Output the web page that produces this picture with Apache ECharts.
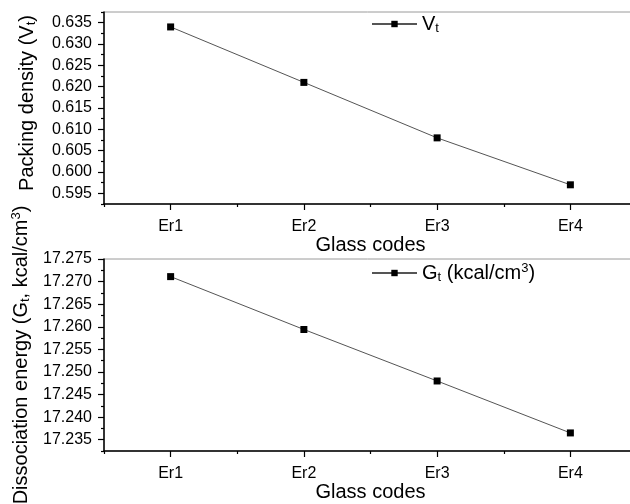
<!DOCTYPE html>
<html>
<head>
<meta charset="utf-8">
<script src="https://cdn.jsdelivr.net/npm/echarts@6/dist/echarts.min.js"></script>
<style>
  html, body { margin: 0; padding: 0; background: #fff; }
  #chart { width: 630px; height: 504px; }
</style>
</head>
<body>
<div id="chart"></div>
<script>
// Glass samples and their measured properties
const glassCodes = ['Er1', 'Er2', 'Er3', 'Er4'];
const packingDensity = [0.634, 0.621, 0.608, 0.597];
const dissociationEnergy = [17.2711, 17.2594, 17.2480, 17.2365];

// Labelled tick values on each value axis
const packingTicks = [0.595, 0.600, 0.605, 0.610, 0.615, 0.620, 0.625, 0.630, 0.635];
const energyTicks = [17.235, 17.240, 17.245, 17.250, 17.255, 17.260, 17.265, 17.270, 17.275];

// Unlabelled half-step ticks between the labelled ones
function halfSteps(ticks, step, includeAbove) {
  const out = [Number((ticks[0] - step / 2).toFixed(4))];
  ticks.forEach((t, i) => {
    if (i < ticks.length - 1 || includeAbove) out.push(Number((t + step / 2).toFixed(4)));
  });
  return out;
}
const packingMinor = halfSteps(packingTicks, 0.005, true);
const energyMinor = halfSteps(energyTicks, 0.005, false);

const FONT = "'Liberation Sans', Arial, sans-serif";
const INK = '#000';
const LINE = '#555';

const chart = echarts.init(document.getElementById('chart'), null, { renderer: 'canvas' });

const PLOT_LEFT = 104;
const PLOT_WIDTH = 533;

function grid(top) {
  return {
    left: PLOT_LEFT, top: top, width: PLOT_WIDTH, height: 192,
    containLabel: false, outerBoundsMode: 'none',
    show: true, borderColor: '#9a9a9a', borderWidth: 1, backgroundColor: 'transparent'
  };
}

function majorX(gridIndex, nameGap) {
  return {
    type: 'category', gridIndex: gridIndex, data: glassCodes, boundaryGap: true,
    name: 'Glass codes', nameLocation: 'middle', nameGap: nameGap,
    nameTextStyle: { fontFamily: FONT, fontSize: 20, color: INK },
    axisLine: { show: true, lineStyle: { color: INK, width: 1.5 } },
    axisTick: { show: true, alignWithLabel: true, inside: false, length: 6, lineStyle: { color: INK, width: 1.2 } },
    axisLabel: { fontFamily: FONT, fontSize: 16, color: INK, margin: 15 },
    splitLine: { show: false }
  };
}
function minorX(gridIndex) {
  return {
    type: 'category', gridIndex: gridIndex, data: glassCodes, boundaryGap: true, position: 'bottom',
    axisLine: { show: false },
    axisTick: { show: true, alignWithLabel: false, inside: false, length: 3, lineStyle: { color: INK, width: 1.2 } },
    axisLabel: { show: false },
    splitLine: { show: false }
  };
}
function majorY(gridIndex, min, max, ticks, name, nameGap, shift) {
  return {
    type: 'value', gridIndex: gridIndex, min: min, max: max, scale: true,
    name: name, nameLocation: 'middle', nameGap: nameGap, nameRotate: 90,
    nameTextStyle: {
      fontFamily: FONT, fontSize: 20, color: INK,
      padding: [0, 0, 0, shift],
      rich: {
        m: { fontFamily: FONT, fontSize: 20, color: INK },
        sub: { fontFamily: FONT, fontSize: 13, color: INK, padding: [9, 0, 0, 0] },
        sup: { fontFamily: FONT, fontSize: 13, color: INK, padding: [0, 0, 9, 0] }
      }
    },
    axisLine: { show: true, lineStyle: { color: INK, width: 1.5 } },
    axisTick: { show: true, inside: false, length: 6, customValues: ticks, lineStyle: { color: INK, width: 1.2 } },
    axisLabel: {
      fontFamily: FONT, fontSize: 16, color: INK, margin: 12, customValues: ticks,
      formatter: v => v.toFixed(3)
    },
    splitLine: { show: false }
  };
}
function minorY(gridIndex, min, max, ticks) {
  return {
    type: 'value', gridIndex: gridIndex, min: min, max: max, scale: true, position: 'left',
    axisLine: { show: false },
    axisTick: { show: true, inside: false, length: 3, customValues: ticks, lineStyle: { color: INK, width: 1.2 } },
    axisLabel: { show: false },
    splitLine: { show: false }
  };
}

const legendRich = {
  m: { fontFamily: FONT, fontSize: 20, color: INK },
  sub: { fontFamily: FONT, fontSize: 13, color: INK, padding: [9, 0, 0, 0] },
  sup: { fontFamily: FONT, fontSize: 13, color: INK, padding: [0, 0, 9, 0] }
};
const legendLabels = {
  'Vt': '{m|V}{sub|t}',
  'Gt': '{m|G}{sub|t}{m| (kcal/cm}{sup|3}{m|)}'
};

function lineSeries(name, data, xi, yi) {
  return {
    type: 'line', name: name, data: data,
    xAxisIndex: xi, yAxisIndex: yi,
    symbol: 'rect', symbolSize: 7,
    itemStyle: { color: INK },
    lineStyle: { color: LINE, width: 1 },
    emphasis: { disabled: true },
    animation: false
  };
}

const option = {
  backgroundColor: '#fff',
  animation: false,
  grid: [grid(12), grid(259)],
  legend: [
    {
      data: ['Vt'], left: 371, top: 14, padding: 0, itemWidth: 45, itemHeight: 8, itemGap: 0,
      formatter: n => legendLabels[n], textStyle: { rich: legendRich }
    },
    {
      data: ['Gt'], left: 371, top: 262, padding: 0, itemWidth: 45, itemHeight: 8, itemGap: 0,
      formatter: n => legendLabels[n], textStyle: { rich: legendRich }
    }
  ],
  xAxis: [majorX(0, 23), minorX(0), majorX(1, 31), minorX(1)],
  yAxis: [
    majorY(0, 0.5925, 0.6375, packingTicks, '{m|Packing density (V}{sub|t}{m|)}', 66, 10),
    minorY(0, 0.5925, 0.6375, packingMinor),
    majorY(1, 17.2325, 17.275, energyTicks, '{m|Dissociation energy (G}{sub|t}{m|, kcal/cm}{sup|3}{m|)}', 70, 0),
    minorY(1, 17.2325, 17.275, energyMinor)
  ],
  series: [
    lineSeries('Vt', packingDensity, 0, 0),
    lineSeries('Gt', dissociationEnergy, 2, 2)
  ]
};

chart.setOption(option);
</script>
</body>
</html>
